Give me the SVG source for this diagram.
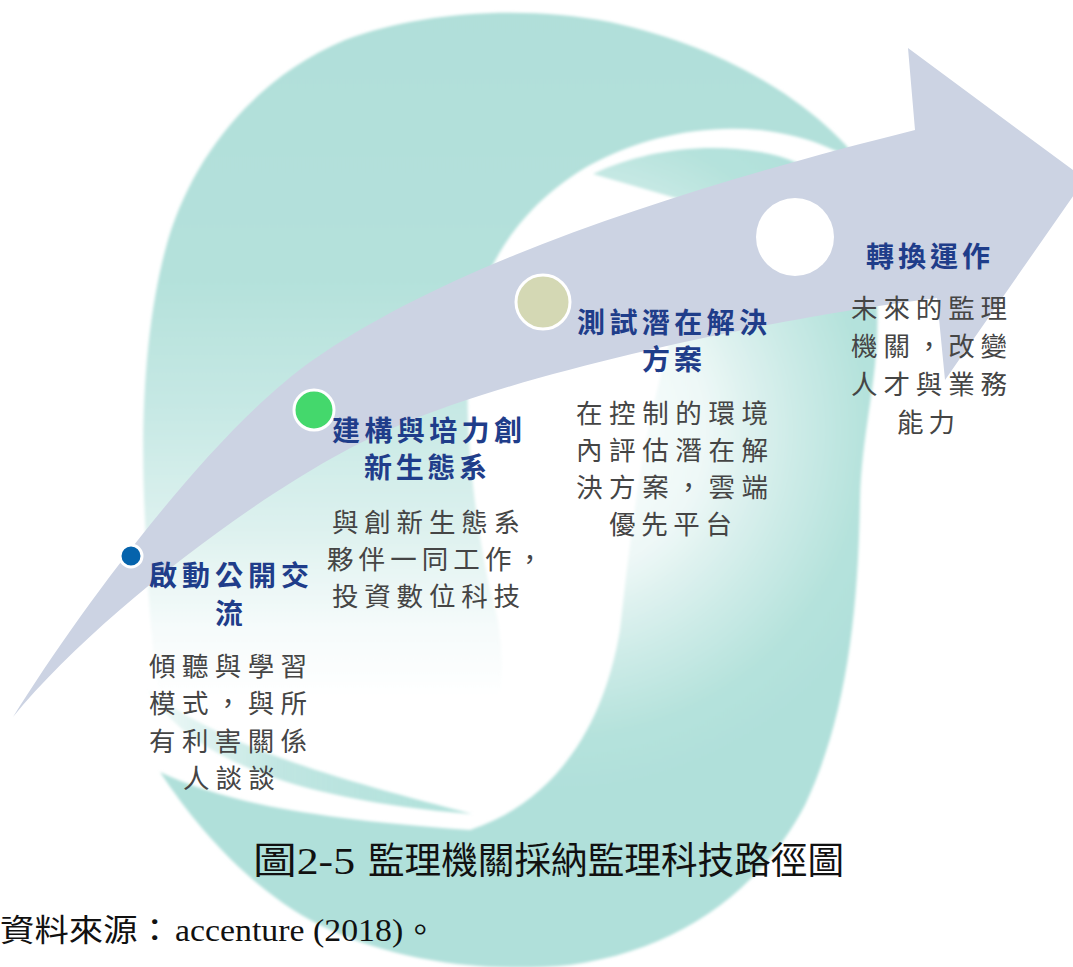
<svg xmlns="http://www.w3.org/2000/svg" width="1073" height="967" viewBox="0 0 1073 967">
<defs>
<style>
.t{font-family:"Noto Sans CJK TC","Noto Sans CJK SC",sans-serif;font-weight:700;font-size:28px;fill:#1f3d8a}
.b{font-family:"Noto Sans CJK TC","Noto Sans CJK SC",sans-serif;font-weight:400;font-size:26.5px;fill:#454545}
.cap{font-family:"Liberation Serif","Noto Sans CJK TC",serif;font-size:37px;fill:#111}
.src{font-family:"Liberation Serif","Noto Sans CJK TC",serif;font-size:31px;fill:#111}
.dot{stroke:#fff;stroke-width:3}
</style>
<linearGradient id="gT" gradientUnits="userSpaceOnUse" x1="0" y1="0" x2="0" y2="700">
<stop offset="0" stop-color="#b0dfd9"/>
<stop offset="0.4" stop-color="#b4e1db"/>
<stop offset="0.58" stop-color="#c6e8e4"/>
<stop offset="0.75" stop-color="#dcf1ee"/>
<stop offset="0.9" stop-color="#f6fbfb"/>
<stop offset="1" stop-color="#ffffff"/>
</linearGradient>
<linearGradient id="gTail" gradientUnits="userSpaceOnUse" x1="150" y1="0" x2="420" y2="0">
<stop offset="0" stop-color="#b8e3de" stop-opacity="0.2"/>
<stop offset="0.5" stop-color="#b8e3de" stop-opacity="0.9"/>
<stop offset="1" stop-color="#b3e2dc"/>
</linearGradient>
<radialGradient id="gB" gradientUnits="userSpaceOnUse" cx="560" cy="430" r="360">
<stop offset="0" stop-color="#ffffff"/>
<stop offset="0.4" stop-color="#eef8f7"/>
<stop offset="0.65" stop-color="#cdebe7"/>
<stop offset="0.85" stop-color="#b5e2dc"/>
<stop offset="1" stop-color="#b0e0da"/>
</radialGradient>
<filter id="soft" x="-5%" y="-5%" width="110%" height="110%"><feGaussianBlur stdDeviation="1.5"/></filter>
</defs>
<rect width="1073" height="967" fill="#fff"/>
<g id="background" filter="url(#soft)">
<path id="crescent-top" fill="url(#gT)" d="M 872,178 C 830,115 740,50 610,22 C 520,5 420,12 345,40 C 260,75 195,150 168,240 C 145,320 140,420 145,520 C 148,600 152,650 160,700 L 500,700 C 505,660 500,620 490,590 C 475,520 462,420 470,340 C 478,270 520,205 590,165 C 640,138 700,124 760,130 C 810,136 850,152 885,185 Z"/>
<path id="crescent-tail" fill="url(#gTail)" d="M 148,690 C 190,760 300,800 472,814 C 400,795 310,772 240,742 C 195,722 168,705 148,690 Z"/>
<path id="crescent-bottom" fill="url(#gB)" d="M 593,174 C 640,152 700,142 760,152 C 820,162 865,200 875,280 C 885,360 862,420 860,500 C 858,620 845,720 805,805 C 760,890 680,950 570,965 C 470,975 380,955 320,925 C 250,890 195,825 160,772 C 220,800 300,818 470,830 C 560,800 605,720 620,630 C 630,540 640,450 665,360 C 680,300 695,250 700,205 Z"/>
</g>
<g id="connectors">
<path id="arrow" fill="#ccd3e3" d="M 13,717 C 83,605 213,430 313,360 C 463,255 715,180 915,130 L 908,48 L 1085,179 L 945,380 L 937,298 C 787,316 530,369 400,425 C 290,468 100,610 13,717 Z"/>
</g>
<g id="node-1">
<circle class="dot" cx="131" cy="556" r="11" fill="#0563ac" stroke-width="2.5"/>
<text class="t" x="149" y="586" textLength="160" lengthAdjust="spacing">啟動公開交</text>
<text class="t" x="215" y="624">流</text>
<text class="b" x="149" y="676" textLength="158" lengthAdjust="spacing">傾聽與學習</text>
<text class="b" x="149" y="713" textLength="158" lengthAdjust="spacing">模式，與所</text>
<text class="b" x="149" y="751" textLength="158" lengthAdjust="spacing">有利害關係</text>
<text class="b" x="183" y="788" textLength="92" lengthAdjust="spacing">人談談</text>
</g>
<g id="node-2">
<circle class="dot" cx="314" cy="410" r="20" fill="#44d86c"/>
<text class="t" x="332" y="441" textLength="190" lengthAdjust="spacing">建構與培力創</text>
<text class="t" x="364" y="478" textLength="123" lengthAdjust="spacing">新生態系</text>
<text class="b" x="332" y="532" textLength="188" lengthAdjust="spacing">與創新生態系</text>
<text class="b" x="327" y="569" textLength="216" lengthAdjust="spacing">夥伴一同工作，</text>
<text class="b" x="332" y="606" textLength="188" lengthAdjust="spacing">投資數位科技</text>
</g>
<g id="node-3">
<circle class="dot" cx="543" cy="302" r="27" fill="#d4d8b4"/>
<text class="t" x="577" y="333" textLength="190" lengthAdjust="spacing">測試潛在解決</text>
<text class="t" x="642" y="370" textLength="60" lengthAdjust="spacing">方案</text>
<text class="b" x="576" y="423" textLength="192" lengthAdjust="spacing">在控制的環境</text>
<text class="b" x="576" y="460" textLength="192" lengthAdjust="spacing">內評估潛在解</text>
<text class="b" x="576" y="497" textLength="192" lengthAdjust="spacing">決方案，雲端</text>
<text class="b" x="609" y="534" textLength="123" lengthAdjust="spacing">優先平台</text>
</g>
<g id="node-4">
<circle cx="795" cy="237" r="39" fill="#ffffff"/>
<text class="t" x="866" y="267" textLength="124" lengthAdjust="spacing">轉換運作</text>
<text class="b" x="851" y="318" textLength="156" lengthAdjust="spacing">未來的監理</text>
<text class="b" x="851" y="356" textLength="156" lengthAdjust="spacing">機關，改變</text>
<text class="b" x="851" y="394" textLength="156" lengthAdjust="spacing">人才與業務</text>
<text class="b" x="897" y="432" textLength="58" lengthAdjust="spacing">能力</text>
</g>
<g id="caption">
<text class="cap" x="253" y="874" textLength="102" lengthAdjust="spacingAndGlyphs">圖2-5</text>
<text class="cap" x="368" y="874" textLength="476" lengthAdjust="spacingAndGlyphs">監理機關採納監理科技路徑圖</text>
<text class="src" x="0" y="941" textLength="172" lengthAdjust="spacingAndGlyphs">資料來源：</text>
<text class="src" x="175" y="941" textLength="262" lengthAdjust="spacingAndGlyphs">accenture (2018)。</text>
</g>
</svg>
